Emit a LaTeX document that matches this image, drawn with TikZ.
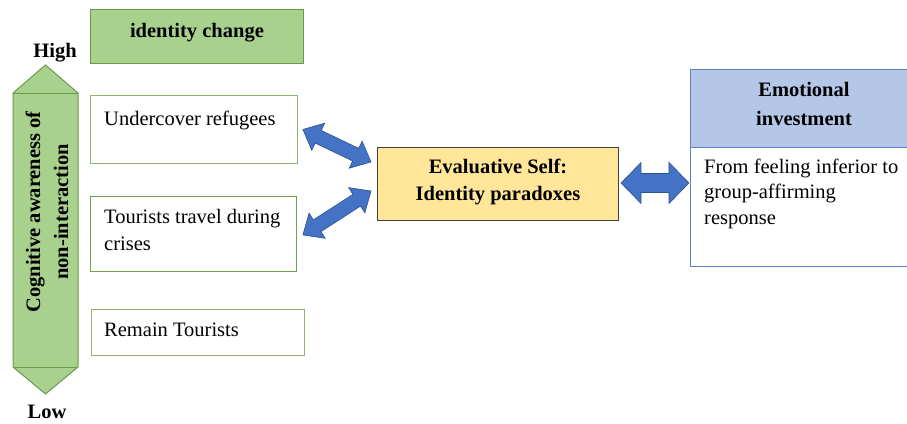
\documentclass[tikz,border=0pt]{standalone}
\usepackage{fontspec}
\setmainfont{Liberation Serif}
\usetikzlibrary{calc}
\definecolor{grfill}{HTML}{A9D18E}
\definecolor{grdraw}{HTML}{6A9A4A}
\definecolor{grlight}{HTML}{8DB370}
\definecolor{grmid}{HTML}{70A050}
\definecolor{yfill}{HTML}{FFE699}
\definecolor{ydraw}{HTML}{404040}
\definecolor{bfill}{HTML}{B4C7E7}
\definecolor{bdraw}{HTML}{5B84CF}
\definecolor{arrfill}{HTML}{4472C4}
\definecolor{arrdraw}{HTML}{2F528F}
\newcommand{\blockdbl}[5]{%
  \coordinate (ba1) at ($(#1)!#3!(#2)$);
  \coordinate (ba2) at ($(#2)!#3!(#1)$);
  \filldraw[blockarr] (#1) -- ($(ba1)!#4!90:(#2)$) -- ($(ba1)!#5!90:(#2)$)
    -- ($(ba2)!#5!-90:(#1)$) -- ($(ba2)!#4!-90:(#1)$) -- (#2)
    -- ($(ba2)!#4!90:(#1)$) -- ($(ba2)!#5!90:(#1)$)
    -- ($(ba1)!#5!-90:(#2)$) -- ($(ba1)!#4!-90:(#2)$) -- cycle;
}
\tikzset{
  txt/.style={font=\fontsize{20.5}{26}\selectfont, inner sep=0pt, anchor=base west},
  btxt/.style={font=\fontsize{20.5}{27}\selectfont\bfseries, inner sep=0pt},
  whitebox/.style={draw=grlight, line width=0.9pt, fill=white, inner sep=0pt, anchor=north west},
  greenbox/.style={draw=grdraw, line width=0.9pt, fill=grfill, inner sep=0pt, anchor=north west},
  evalbox/.style={draw=ydraw, line width=1pt, fill=yfill, inner sep=0pt, anchor=north west},
  bluehead/.style={draw=bdraw, line width=0.9pt, fill=bfill, inner sep=0pt, anchor=north west},
  bluebody/.style={draw=bdraw, line width=0.9pt, fill=white, inner sep=0pt, anchor=north west},
  blockarr/.style={fill=arrfill, draw=arrdraw, line width=0.6pt, line join=miter},
  axisarr/.style={fill=grfill, draw=grdraw, line width=1pt, line join=miter},
}
\begin{document}
\begin{tikzpicture}[x=1pt,y=-1pt]
\clip (0,0) rectangle (907,423);
\fill[white] (0,0) rectangle (907,423);

% vertical axis arrow
\filldraw[axisarr] (45.5,65) -- (78,93) -- (78,367) -- (45.5,394) -- (13,367) -- (13,93) -- cycle;
\draw[grdraw, line width=1pt] (13,93) -- (78,93) (13,367) -- (78,367);
\node[btxt, rotate=90, align=center, font=\fontsize{20.5}{28}\selectfont\bfseries] (axis) at (47,212) {Cognitive awareness of\\non-interaction};
\node[btxt, anchor=base] (high) at (55,57) {High};
\node[btxt, anchor=base] (low) at (47,418) {Low};

% left boxes
\node[greenbox, minimum width=213pt, minimum height=54pt] (idbox) at (90,9) {};
\node[btxt, anchor=base] (idtext) at ($(idbox.north)+(0,28)$) {identity change};

\node[whitebox, minimum width=207pt, minimum height=68pt] (under) at (90,95) {};
\node[txt] (undert) at ($(under.north west)+(14,30)$) {Undercover refugees};

\node[whitebox, draw=grmid, minimum width=206pt, minimum height=75pt] (tour) at (90,196) {};
\node[txt] (tourt1) at ($(tour.north west)+(14,27)$) {Tourists travel during};
\node[txt] (tourt2) at ($(tour.north west)+(14,54)$) {crises};

\node[whitebox, minimum width=213pt, minimum height=46pt] (remain) at (91,309) {};
\node[txt] (remaint) at ($(remain.north west)+(13,27)$) {Remain Tourists};

% central box
\node[evalbox, minimum width=241pt, minimum height=73pt] (eval) at (377,147) {};
\node[btxt, anchor=base] (evalt1) at ($(eval.north)+(0,26)$) {Evaluative Self:};
\node[btxt, anchor=base] (evalt2) at ($(eval.north)+(0,53)$) {Identity paradoxes};

% right boxes
\node[bluehead, minimum width=228pt, minimum height=78pt] (emohead) at (690,69) {};
\node[btxt, anchor=base] (emot1) at (804,96) {Emotional};
\node[btxt, anchor=base] (emot2) at (804,125) {investment};
\node[bluebody, minimum width=228pt, minimum height=119pt] (emobody) at (690,147) {};
\node[txt] (emob1) at ($(emobody.north west)+(14,26)$) {From feeling inferior to};
\node[txt] (emob2) at ($(emobody.north west)+(14,51)$) {group-affirming};
\node[txt] (emob3) at ($(emobody.north west)+(14,77)$) {response};

% block arrows
\coordinate (a1s) at ($(under.east)+(5,0)$);
\coordinate (a1e) at ($(eval.west)+(-6,-22)$);
\coordinate (a2s) at ($(tour.east)+(6,1)$);
\coordinate (a2e) at ($(eval.west)+(-6,7)$);
\coordinate (a3s) at ($(eval.east)+(2,-1)$);
\coordinate (a3e) at ($(emobody.west)+(-1,-24)$);
\blockdbl{a1s}{a1e}{17pt}{15pt}{7pt}
\blockdbl{a2s}{a2e}{17pt}{15pt}{7pt}
\blockdbl{a3s}{a3e}{20pt}{20.5pt}{9.5pt}
\end{tikzpicture}
\end{document}
